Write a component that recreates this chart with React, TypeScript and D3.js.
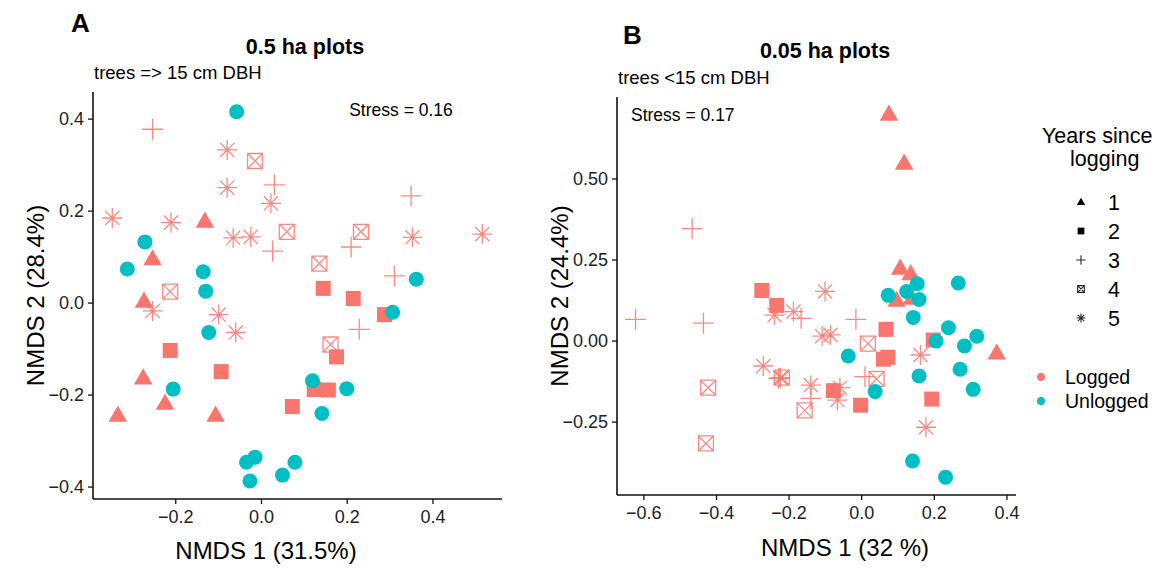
import React from "react";
import * as d3 from "d3";

// Colours of the two groups
const LOGGED = "#F8766D";
const UNLOGGED = "#00BFC4";

// Panel A (0.5 ha plots): logged plots by years since logging, [NMDS1, NMDS2]
const aYear1 = [[-0.132, 0.179], [-0.254, 0.097], [-0.274, 0.005], [-0.276, -0.162], [-0.225, -0.217], [-0.335, -0.243], [-0.107, -0.243]];
const aYear2 = [[-0.213, -0.103], [-0.094, -0.149], [0.144, 0.032], [0.214, 0.010], [0.287, -0.025], [0.175, -0.117], [0.123, -0.188], [0.156, -0.189], [0.072, -0.225]];
const aYear3 = [[-0.254, 0.378], [0.030, 0.257], [0.026, 0.113], [0.349, 0.233], [0.209, 0.122], [0.310, 0.059], [0.228, -0.057]];
const aYear4 = [[-0.015, 0.309], [0.059, 0.155], [-0.213, 0.025], [0.232, 0.155], [0.135, 0.086], [0.161, -0.090]];
const aYear5 = [[-0.080, 0.333], [-0.080, 0.251], [0.022, 0.217], [-0.348, 0.185], [-0.211, 0.175], [-0.066, 0.142], [-0.025, 0.144], [-0.254, -0.017], [-0.100, -0.025], [-0.060, -0.064], [0.352, 0.143], [0.515, 0.150]];
const aUnlogged = [[-0.058, 0.416], [-0.272, 0.133], [-0.313, 0.074], [-0.136, 0.068], [-0.130, 0.026], [-0.123, -0.064], [-0.206, -0.187], [0.306, -0.020], [0.361, 0.052], [0.119, -0.169], [0.199, -0.186], [0.141, -0.240], [-0.035, -0.346], [-0.015, -0.335], [-0.027, -0.387], [0.049, -0.374], [0.078, -0.346]];

// Panel B (0.05 ha plots)
const bYear1 = [[0.075, 0.701], [0.117, 0.550], [0.106, 0.226], [0.135, 0.209], [0.096, 0.127], [0.138, 0.133], [0.372, -0.036]];
const bYear2 = [[-0.275, 0.156], [-0.234, 0.110], [0.067, 0.036], [0.060, -0.056], [0.072, -0.050], [0.197, 0.003], [-0.078, -0.153], [-0.003, -0.198], [0.193, -0.179]];
const bYear3 = [[-0.467, 0.347], [-0.623, 0.067], [-0.436, 0.055], [-0.167, 0.070], [-0.016, 0.067], [-0.229, -0.115], [-0.140, -0.177], [0.009, -0.110]];
const bYear4 = [[-0.423, -0.144], [-0.429, -0.316], [-0.220, -0.113], [-0.157, -0.214], [0.017, -0.008], [0.041, -0.117]];
const bYear5 = [[-0.240, 0.080], [-0.188, 0.091], [-0.101, 0.153], [-0.109, 0.015], [-0.086, 0.019], [-0.271, -0.077], [-0.224, -0.113], [-0.140, -0.136], [-0.060, -0.144], [-0.067, -0.182], [0.162, -0.043], [0.177, -0.266]];
const bUnlogged = [[0.073, 0.141], [0.124, 0.153], [0.153, 0.177], [0.158, 0.128], [0.142, 0.073], [0.266, 0.179], [0.239, 0.041], [0.205, 0.000], [0.283, -0.015], [0.317, 0.015], [0.271, -0.087], [0.307, -0.149], [0.158, -0.108], [-0.037, -0.046], [0.037, -0.156], [0.140, -0.370], [0.231, -0.420]];

// Axis ticks
const aXTicks = [-0.2, 0, 0.2, 0.4];
const aYTicks = [-0.4, -0.2, 0, 0.2, 0.4];
const bXTicks = [-0.6, -0.4, -0.2, 0, 0.2, 0.4];
const bYTicks = [-0.25, 0, 0.25, 0.5];
const yearLabels = ["1", "2", "3", "4", "5"];
const groupLabels = ["Logged", "Unlogged"];

const FONT = "'Liberation Sans', Arial, sans-serif";

// marker path for a given year (1..5), scaled by k
function markerPath(year: number, k = 1): string {
  if (year === 1) return d3.symbol(d3.symbolTriangle, 150 * k * k)()!;
  if (year === 2) return d3.symbol(d3.symbolSquare, 225 * k * k)()!;
  if (year === 3) {
    const r = 10.5 * k;
    return `M${-r},0H${r}M0,${-r}V${r}`;
  }
  if (year === 4) {
    const r = 7.5 * k;
    return `M${-r},${-r}H${r}V${r}H${-r}ZM${-r},${-r}L${r},${r}M${r},${-r}L${-r},${r}`;
  }
  const r = 10 * k;
  const d = r * Math.SQRT1_2;
  return `M${-r},0H${r}M0,${-r}V${r}M${-d},${-d}L${d},${d}M${d},${-d}L${-d},${d}`;
}

function Marker({ year, x, y, color, k = 1, sw = 1.3 }: any) {
  const filled = year === 1 || year === 2;
  const dy = year === 1 ? 1.5 * k : 0;
  return (
    <path
      transform={`translate(${x},${y + dy})`}
      d={markerPath(year, k)}
      fill={filled ? color : "none"}
      stroke={filled ? "none" : color}
      strokeWidth={sw}
      strokeOpacity={filled ? 1 : 0.85}
    />
  );
}

function Panel({ letter, letterPos, title, titleX, titleY, subtitle, subY, stress, stressX, stressAnchor, left, right, top, bottom, xDomain, yDomain, xTicks, yTicks, yFmt, xLabel, yLabel, xLabelX, xLabelY, years, unlogged }: any) {
  const x = d3.scaleLinear().domain(xDomain).range([left, right]);
  const y = d3.scaleLinear().domain(yDomain).range([bottom, top]);
  const fmtX = d3.format(".1f");
  return (
    <g fontFamily={FONT}>
      <text x={letterPos[0]} y={letterPos[1]} fontSize={26} fontWeight="bold">{letter}</text>
      <text x={titleX} y={titleY} fontSize={21.5} fontWeight="bold" textAnchor="middle">{title}</text>
      <text x={left + 1} y={subY} fontSize={18.5}>{subtitle}</text>

      {/* points: logged by year, then unlogged */}
      {years.map((pts: number[][], i: number) =>
        pts.map((p, j) => (
          <Marker key={`${i}-${j}`} year={i + 1} x={x(p[0])} y={y(p[1])} color={LOGGED} />
        ))
      )}
      {unlogged.map((p: number[], j: number) => (
        <circle key={`u${j}`} cx={x(p[0])} cy={y(p[1])} r={7.5} fill={UNLOGGED} />
      ))}

      <text x={stressX} y={top + 24} fontSize={17.5} textAnchor={stressAnchor}>{stress}</text>

      {/* axes */}
      <line x1={left} x2={left} y1={top} y2={bottom} stroke="#111" strokeWidth={1.6} />
      <line x1={left} x2={right} y1={bottom} y2={bottom} stroke="#111" strokeWidth={1.6} />
      {yTicks.map((t: number) => (
        <g key={`yt${t}`}>
          <line x1={left - 5} x2={left} y1={y(t)} y2={y(t)} stroke="#111" strokeWidth={1.3} />
          <text x={left - 9} y={y(t)} dy="0.35em" fontSize={18} textAnchor="end" fill="#222">{yFmt(t)}</text>
        </g>
      ))}
      {xTicks.map((t: number) => (
        <g key={`xt${t}`}>
          <line x1={x(t)} x2={x(t)} y1={bottom} y2={bottom + 5} stroke="#111" strokeWidth={1.3} />
          <text x={x(t)} y={bottom + 24} fontSize={18} textAnchor="middle" fill="#222">{fmtX(t)}</text>
        </g>
      ))}
      <text x={xLabelX} y={xLabelY} fontSize={24} textAnchor="middle">{xLabel}</text>
      <text transform={`translate(${left - 49},${(top + bottom) / 2}) rotate(-90)`} fontSize={24} textAnchor="middle">{yLabel}</text>
    </g>
  );
}

export default function App() {
  const width = 1167;
  const height = 568;
  const legendRows = [202, 231, 260, 289, 318];
  return (
    <svg width={width} height={height} style={{ position: "absolute", left: 0, top: 0, background: "#fff" }}>
      <Panel
        letter="A" letterPos={[71, 32]}
        title="0.5 ha plots" titleX={305} titleY={54}
        subtitle="trees => 15 cm DBH" subY={79}
        stress="Stress = 0.16" stressX={401} stressAnchor="middle"
        left={93} right={502} top={92} bottom={499}
        xDomain={[-0.393, 0.561]} yDomain={[-0.426, 0.459]}
        xTicks={aXTicks} yTicks={aYTicks} yFmt={d3.format(".1f")}
        xLabel="NMDS 1 (31.5%)" yLabel="NMDS 2 (28.4%)" xLabelX={266} xLabelY={559}
        years={[aYear1, aYear2, aYear3, aYear4, aYear5]} unlogged={aUnlogged}
      />
      <Panel
        letter="B" letterPos={[623, 44]}
        title="0.05 ha plots" titleX={825} titleY={58}
        subtitle="trees <15 cm DBH" subY={84}
        stress="Stress = 0.17" stressX={631} stressAnchor="start"
        left={617} right={1016} top={97} bottom={495}
        xDomain={[-0.674, 0.425]} yDomain={[-0.475, 0.753]}
        xTicks={bXTicks} yTicks={bYTicks} yFmt={d3.format(".2f")}
        xLabel="NMDS 1 (32 %)" yLabel="NMDS 2 (24.4%)" xLabelX={845} xLabelY={556}
        years={[bYear1, bYear2, bYear3, bYear4, bYear5]} unlogged={bUnlogged}
      />

      {/* legend */}
      <g fontFamily={FONT}>
        <text x={1042} y={143} fontSize={21.5}>Years since</text>
        <text x={1070} y={166} fontSize={21.5}>logging</text>
        {yearLabels.map((lab, i) => (
          <g key={lab}>
            <Marker year={i + 1} x={1081} y={legendRows[i]} color="#000" k={0.45} sw={1.1} />
            <text x={1108} y={legendRows[i]} dy="0.36em" fontSize={21.5}>{lab}</text>
          </g>
        ))}
        {groupLabels.map((lab, i) => (
          <g key={lab}>
            <circle cx={1041} cy={377 + i * 24} r={4} fill={i === 0 ? LOGGED : UNLOGGED} />
            <text x={1065} y={377 + i * 24} dy="0.36em" fontSize={19.5}>{lab}</text>
          </g>
        ))}
      </g>
    </svg>
  );
}
